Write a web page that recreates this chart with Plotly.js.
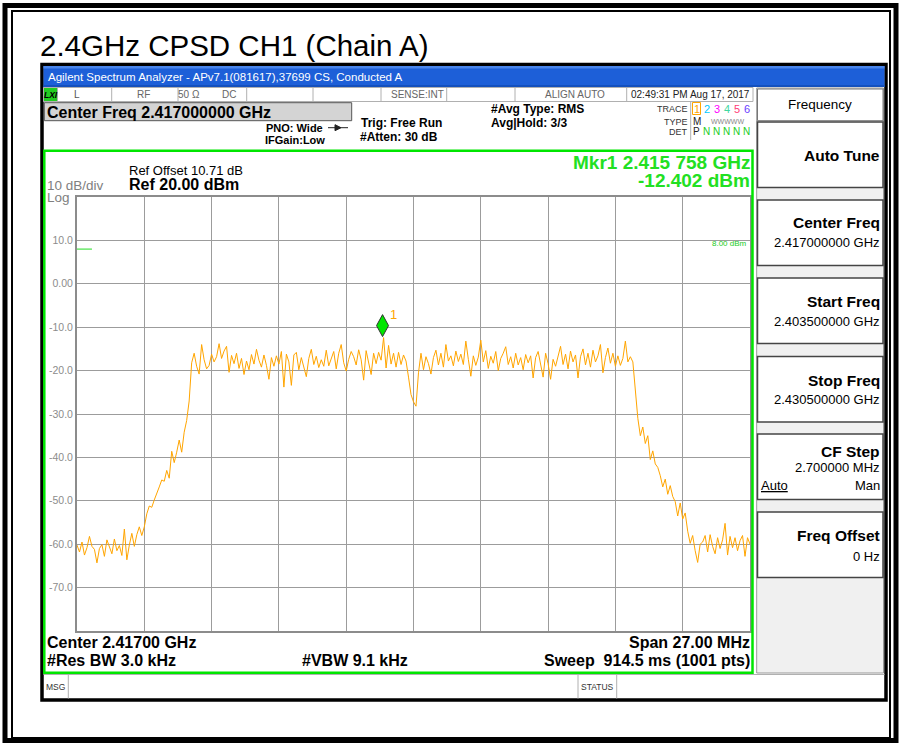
<!DOCTYPE html>
<html><head><meta charset="utf-8">
<script src="https://cdn.plot.ly/plotly-3.0.1.min.js"></script>
<style>html,body{margin:0;padding:0;background:#fff;}#chart{width:899px;height:743px;}</style>
</head><body><div id="chart"></div>
<script>
// ---------------- data ----------------
const startFreqGHz = 2.4035;
const stopFreqGHz = 2.4305;
const levelsDbm = [
 -60.2,-61.8,-59.5,-62.5,-60.8,-58.2,-60.5,-61.2,-64.3,-61.0,
 -60.1,-62.8,-59.0,-60.7,-62.2,-58.8,-61.5,-60.3,-62.6,-56.5,
 -63.6,-60.2,-57.5,-60.5,-57.8,-56.0,-58.0,-56.0,-53.0,-51.2,
 -51.5,-49.8,-48.5,-46.8,-45.2,-45.5,-43.0,-44.8,-38.6,-41.2,
 -38.8,-36.0,-38.8,-34.2,-31.5,-27.0,-18.2,-16.0,-19.0,-20.8,
 -14.0,-17.5,-19.6,-18.8,-16.2,-18.0,-16.8,-13.8,-17.2,-15.5,
 -14.4,-20.4,-16.5,-18.4,-16.0,-19.5,-17.2,-20.9,-17.8,-19.8,
 -16.3,-18.5,-15.1,-17.6,-19.2,-16.4,-18.8,-22.0,-17.0,-19.0,
 -16.6,-18.5,-15.6,-23.8,-16.2,-18.0,-23.4,-16.4,-15.8,-19.8,
 -17.0,-19.5,-21.4,-17.2,-15.1,-18.6,-16.7,-19.3,-17.5,-19.0,
 -15.3,-18.9,-17.0,-15.6,-19.6,-16.0,-14.0,-18.2,-20.1,-17.4,
 -15.6,-16.8,-18.7,-15.2,-17.5,-22.2,-15.4,-18.0,-20.9,-16.0,
 -18.4,-15.8,-17.6,-12.4,-19.4,-14.2,-18.5,-16.0,-19.2,-15.8,
 -18.6,-16.4,-17.8,-21.5,-25.5,-27.2,-28.2,-20.5,-16.0,-19.8,
 -16.8,-18.4,-20.8,-17.0,-15.3,-18.7,-16.0,-19.2,-14.0,-17.8,
 -16.6,-18.9,-15.5,-17.9,-16.2,-18.6,-13.2,-17.4,-21.3,-16.6,
 -18.8,-16.9,-13.0,-18.0,-15.4,-19.5,-16.7,-18.3,-15.6,-20.0,
 -17.2,-16.0,-14.5,-18.6,-16.8,-19.4,-16.0,-18.7,-17.0,-19.8,
 -16.3,-18.2,-16.6,-21.7,-17.0,-15.6,-18.8,-21.5,-16.0,-18.4,
 -22.0,-17.4,-19.0,-16.5,-14.4,-18.6,-16.2,-19.6,-15.5,-18.0,
 -16.4,-21.7,-16.8,-15.0,-18.7,-16.0,-19.2,-15.3,-18.0,-16.6,
 -14.0,-20.5,-17.0,-14.8,-18.3,-16.0,-19.0,-16.6,-18.8,-17.2,
 -13.2,-18.0,-16.8,-18.0,-24.0,-31.0,-35.0,-33.0,-36.8,-35.0,
 -40.5,-38.5,-41.5,-42.3,-44.2,-46.8,-45.0,-48.5,-46.5,-49.0,
 -50.2,-53.5,-50.5,-54.2,-52.8,-57.0,-59.8,-58.0,-61.5,-64.2,
 -60.0,-59.5,-58.0,-61.8,-57.8,-60.5,-62.2,-58.5,-61.0,-59.0,
 -55.2,-62.5,-58.2,-60.8,-58.5,-61.5,-59.2,-58.0,-62.8,-58.5,
 -60.0
];
const yTickVals = [10, 0, -10, -20, -30, -40, -50, -60, -70];
const yTickText = ['10.0', '0.00', '-10.0', '-20.0', '-30.0', '-40.0', '-50.0', '-60.0', '-70.0'];
const markerFreqGHz = 2.415758;
const markerLevelDbm = -12.402;
const displayLineDbm = 8.0;
const displayLineStopGHz = 2.4041;
const gridStepGHz = 0.0027;

// sample grid of the analyzer sweep
const freqsGHz = levelsDbm.map((_, i) => startFreqGHz + i * (stopFreqGHz - startFreqGHz) / (levelsDbm.length - 1));

// ---------------- page geometry helpers ----------------
const PL = 77, PR = 750, PT = 197, PB = 631;
const px = x => (x - PL) / (PR - PL);
const py = y => (PB - y) / (PB - PT);
const FONT = 'Liberation Sans, Arial, sans-serif';
const shapes = [];
const annotations = [];
function rect(x0, y0, x1, y1, fill, line, lw) {
  shapes.push({type: 'rect', xref: 'paper', yref: 'paper', x0: px(x0), x1: px(x1), y0: py(y1), y1: py(y0),
    fillcolor: fill || 'rgba(0,0,0,0)', line: {color: line || 'rgba(0,0,0,0)', width: lw || 0}, layer: 'above'});
}
function hline(x0, x1, y, color, w) {
  shapes.push({type: 'line', xref: 'paper', yref: 'paper', x0: px(x0), x1: px(x1), y0: py(y), y1: py(y), line: {color: color, width: w}});
}
function vline(x, y0, y1, color, w) {
  shapes.push({type: 'line', xref: 'paper', yref: 'paper', x0: px(x), x1: px(x), y0: py(y0), y1: py(y1), line: {color: color, width: w}});
}
function txt(x, y, s, o) {
  o = o || {};
  annotations.push({xref: 'paper', yref: 'paper', x: px(x), y: py(y), text: s, showarrow: false,
    xanchor: o.anchor || 'left', yanchor: 'middle', align: o.anchor || 'left', borderpad: 0,
    font: {family: o.family || FONT, size: o.size || 12, color: o.color || '#000'}});
}

// ---------------- page frame ----------------
rect(5, 5.5, 896, 740.5, null, '#000', 5);
rect(12, 11, 890, 738, null, '#000', 2);
txt(39, 46, '2.4GHz CPSD CH1 (Chain A)', {size: 29.5});

// analyzer window
rect(42, 64.5, 886, 700, null, '#000', 3.5);
rect(43.5, 66, 884.5, 87, '#1d5fd8', null, 0);
rect(43.5, 66, 884.5, 68.5, '#4a86ec', null, 0);
rect(43.5, 85, 884.5, 87, '#1450bd', null, 0);
txt(46.5, 77, 'Agilent Spectrum Analyzer - APv7.1(081617),37699 CS, Conducted A', {size: 11.5, color: '#ffffff'});

// status row
rect(43.5, 87.5, 753, 101.5, '#ffffff', '#b0b0b0', 1);
rect(44, 88, 57, 101, '#22cc22', null, 0);
txt(50.5, 94.5, '<b><i>LXI</i></b>', {size: 8.5, anchor: 'center'});
[57.5, 111.7, 178, 246.7, 313, 381, 446.7, 515, 626.7].forEach(x => vline(x, 87.5, 101.5, '#b0b0b0', 1));
txt(77, 94.5, 'L', {size: 10, color: '#555', anchor: 'center'});
txt(143, 94.5, 'RF', {size: 10, color: '#666', anchor: 'center'});
txt(189, 94.5, '50 Ω', {size: 10, color: '#666', anchor: 'center'});
txt(228.5, 94.5, 'DC', {size: 10, color: '#666', anchor: 'center'});
txt(445, 94.5, 'SENSE:INT', {size: 10, color: '#666', anchor: 'right'});
txt(575, 94.5, 'ALIGN AUTO', {size: 10, color: '#666', anchor: 'center'});
txt(630, 94.5, '02:49:31 PM Aug 17, 2017', {size: 10, color: '#222'});

// center freq box & settings
rect(44.3, 102.7, 351.7, 120.7, '#d4d4d4', '#555', 1);
txt(45.5, 112, '<b>Center Freq 2.417000000 GHz</b>', {size: 16});
txt(265, 127.7, '<b>PNO: Wide</b>', {size: 11});
hline(328, 348, 127.7, '#222', 1);
shapes.push({type: 'path', xref: 'paper', yref: 'paper', path:
  `M${px(335)},${py(124.7)} L${px(341)},${py(127.7)} L${px(335)},${py(130.7)} Z`, fillcolor: '#222', line: {color: '#222', width: 1}});
txt(263.5, 139.5, '<b>IFGain:Low</b>', {size: 11});
txt(359.5, 123.3, '<b>Trig: Free Run</b>', {size: 12});
txt(358.5, 137.3, '<b>#Atten: 30 dB</b>', {size: 12});
txt(489.5, 109, '<b>#Avg Type: RMS</b>', {size: 12});
txt(489.5, 123.3, '<b>Avg|Hold: 3/3</b>', {size: 12});

// trace info block
txt(689, 108.7, 'TRACE', {size: 9, color: '#333', anchor: 'right'});
txt(689, 121.5, 'TYPE', {size: 9, color: '#333', anchor: 'right'});
txt(689, 131.5, 'DET', {size: 9, color: '#333', anchor: 'right'});
vline(690.7, 101.7, 140, '#b0b0b0', 1);
rect(692.5, 102.5, 700.5, 114.5, null, '#ffa500', 1);
const traceNumColors = ['#ffa500', '#00c8ff', '#ff00ff', '#40d8a0', '#ff3c78', '#6a3cff'];
traceNumColors.forEach((c, i) => txt(696.5 + i * 10, 108.7, String(i + 1), {size: 11, color: c, anchor: 'center'}));
txt(696.5, 121.5, 'M', {size: 10, color: '#222', anchor: 'center'});
txt(727, 121.5, 'WWWWW', {size: 7, color: '#888', anchor: 'center'});
txt(696.5, 131.5, 'P', {size: 10, color: '#222', anchor: 'center'});
[1, 2, 3, 4, 5].forEach(i => txt(696.5 + i * 10, 131.5, 'N', {size: 10, color: '#22cc22', anchor: 'center'}));

// green display frame
rect(44.3, 150.8, 752.5, 672.8, null, '#00e600', 2.5);
txt(127.5, 170.5, 'Ref Offset 10.71 dB', {size: 13});
txt(127.5, 185, '<b>Ref 20.00 dBm</b>', {size: 16});
txt(46, 185.5, '10 dB/div', {size: 13.5, color: '#808080'});
txt(46, 197.5, 'Log', {size: 13.5, color: '#808080'});
txt(751, 162, '<b>Mkr1 2.415 758 GHz</b>', {size: 19, color: '#22e022', anchor: 'right'});
txt(751, 180.5, '<b>-12.402 dBm</b>', {size: 19, color: '#22e022', anchor: 'right'});
txt(748, 243, '8.00 dBm', {size: 8, color: '#22cc22', anchor: 'right'});

txt(45.5, 642, '<b>Center 2.41700 GHz</b>', {size: 16});
txt(45.5, 660, '<b>#Res BW 3.0 kHz</b>', {size: 16});
txt(301, 660, '<b>#VBW 9.1 kHz</b>', {size: 16});
txt(751, 642, '<b>Span 27.00 MHz</b>', {size: 16, anchor: 'right'});
txt(751, 660, '<b>Sweep  914.5 ms (1001 pts)</b>', {size: 16, anchor: 'right'});

// message bar
hline(43.5, 884.5, 674.5, '#b0b0b0', 1);
txt(44.5, 686.7, 'MSG', {size: 8.5, color: '#333'});
vline(68.3, 674.5, 698.5, '#b0b0b0', 1);
vline(578, 674.5, 698.5, '#b0b0b0', 1);
vline(616.7, 674.5, 698.5, '#b0b0b0', 1);
txt(580, 686.7, 'STATUS', {size: 8.5, color: '#333'});

// softkey panel
rect(756.7, 88, 883.5, 673, '#f0f0f0', '#999', 1);
rect(757.5, 89, 883, 120.7, '#ffffff', '#777', 1);
txt(820, 104, 'Frequency', {size: 13.5, anchor: 'center'});
[122, 200, 278, 356.5, 434, 512].forEach(y => rect(757.5, y, 883, y + 65.5, '#ffffff', '#444', 1.5));
txt(880.5, 155.3, '<b>Auto Tune</b>', {size: 15.5, anchor: 'right'});
txt(880.5, 223, '<b>Center Freq</b>', {size: 15.5, anchor: 'right'});
txt(880.5, 242, '2.417000000 GHz', {size: 13, anchor: 'right'});
txt(880.5, 301.7, '<b>Start Freq</b>', {size: 15.5, anchor: 'right'});
txt(880.5, 321, '2.403500000 GHz', {size: 13, anchor: 'right'});
txt(880.5, 380, '<b>Stop Freq</b>', {size: 15.5, anchor: 'right'});
txt(880.5, 399.5, '2.430500000 GHz', {size: 13, anchor: 'right'});
txt(880.5, 451.3, '<b>CF Step</b>', {size: 15.5, anchor: 'right'});
txt(880.5, 467.7, '2.700000 MHz', {size: 13, anchor: 'right'});
txt(759.5, 485, '<u>Auto</u>', {size: 13});
txt(880.5, 485, 'Man', {size: 13, anchor: 'right'});
txt(880.5, 535, '<b>Freq Offset</b>', {size: 15.5, anchor: 'right'});
txt(880.5, 556.7, '0 Hz', {size: 13, anchor: 'right'});

// display line stub and marker (data coordinates)
shapes.push({type: 'line', xref: 'x', yref: 'y', x0: startFreqGHz, x1: displayLineStopGHz, y0: displayLineDbm, y1: displayLineDbm,
  line: {color: '#22dd22', width: 1}, layer: 'below'});
shapes.push({type: 'path', xref: 'x', yref: 'y', xsizemode: 'pixel', ysizemode: 'pixel',
  xanchor: markerFreqGHz, yanchor: markerLevelDbm, path: 'M0,1 L6,12 L0,23 L-6,12 Z',
  fillcolor: '#00e600', line: {color: '#333', width: 1}});
annotations.push({xref: 'x', yref: 'y', x: markerFreqGHz, y: markerLevelDbm, text: '1', showarrow: false,
  xshift: 11, yshift: 23, font: {family: FONT, size: 13, color: '#ffa500'}});

const trace = {x: freqsGHz, y: levelsDbm, type: 'scatter', mode: 'lines', line: {color: '#ffa500', width: 1}, hoverinfo: 'skip'};

const layout = {
  width: 899, height: 743, margin: {l: PL, r: 899 - PR, t: PT, b: 743 - PB, pad: 0},
  paper_bgcolor: '#ffffff', plot_bgcolor: '#ffffff', showlegend: false,
  xaxis: {range: [startFreqGHz, stopFreqGHz], tick0: startFreqGHz, dtick: gridStepGHz, showticklabels: false, ticks: '',
    showgrid: true, gridcolor: '#9c9c9c', gridwidth: 1, zeroline: false, showline: true, linecolor: '#8c8c8c', linewidth: 2, mirror: true},
  yaxis: {range: [-80, 20], tickmode: 'array', tickvals: yTickVals, ticktext: yTickText, ticks: '',
    tickfont: {family: FONT, size: 10.5, color: '#8c8c8c'}, showgrid: true, gridcolor: '#9c9c9c', gridwidth: 1,
    zeroline: false, showline: true, linecolor: '#8c8c8c', linewidth: 2, mirror: true},
  shapes: shapes, annotations: annotations
};
Plotly.newPlot('chart', [trace], layout, {staticPlot: true, displayModeBar: false});
</script></body></html>
